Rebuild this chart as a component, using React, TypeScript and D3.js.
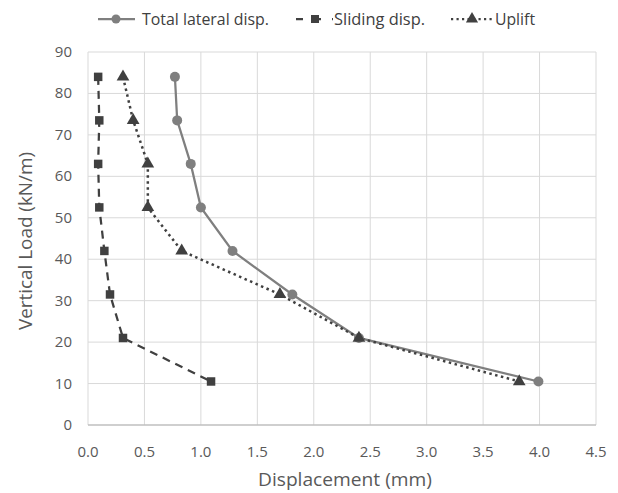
import React from "react";
import * as d3 from "d3";

const loads = [84, 73.5, 63, 52.5, 42, 31.5, 21, 10.5];
const totalLateral = [0.77, 0.79, 0.91, 1.0, 1.28, 1.81, 2.4, 3.99];
const slidingDisp = [0.09, 0.1, 0.09, 0.1, 0.145, 0.195, 0.31, 1.09];
const uplift = [0.31, 0.4, 0.53, 0.53, 0.83, 1.7, 2.4, 3.82];
const xTicks = [0, 0.5, 1, 1.5, 2, 2.5, 3, 3.5, 4, 4.5];
const yTicks = [0, 10, 20, 30, 40, 50, 60, 70, 80, 90];

const W = 618, H = 493;
const FONT = "'Open Sans', sans-serif";

export default function App() {
  const x = d3.scaleLinear().domain([0, 4.5]).range([88, 596]);
  const y = d3.scaleLinear().domain([0, 90]).range([425, 52]);
  const line = d3.line<[number, number]>().x(d => x(d[0])).y(d => y(d[1]));
  const pts = (xs: number[]) => xs.map((v, i) => [v, loads[i]] as [number, number]);
  const tri = d3.symbol().type(d3.symbolTriangle).size(70)();
  const sq = d3.symbol().type(d3.symbolSquare).size(72)();
  const ly = 19;
  return (
    <svg width={W} height={H} style={{ position: "absolute", left: 0, top: 0 }}>
      <rect width={W} height={H} fill="#fff" />
      {xTicks.map(t => (
        <line key={"gx" + t} x1={x(t)} x2={x(t)} y1={y(90)} y2={y(0)} stroke="#d9d9d9" strokeWidth={1} />
      ))}
      {yTicks.map(t => (
        <line key={"gy" + t} x1={x(0)} x2={x(4.5)} y1={y(t)} y2={y(t)} stroke={t === 0 ? "#bfbfbf" : "#d9d9d9"} strokeWidth={t === 0 ? 1.5 : 1} />
      ))}
      {xTicks.map(t => (
        <text key={"tx" + t} x={x(t)} y={457} textAnchor="middle" fontFamily={FONT} fontSize={15} fill="#595959">{d3.format(".1f")(t)}</text>
      ))}
      {yTicks.map(t => (
        <text key={"ty" + t} x={72} y={y(t) + 5} textAnchor="end" fontFamily={FONT} fontSize={15} fill="#595959">{t}</text>
      ))}
      <text x={258} y={486} textLength={174} lengthAdjust="spacingAndGlyphs" fontFamily={FONT} fontSize={17.5} fill="#595959">Displacement (mm)</text>
      <text transform={`translate(32,330) rotate(-90)`} textLength={178} lengthAdjust="spacingAndGlyphs" fontFamily={FONT} fontSize={17.5} fill="#595959">Vertical Load (kN/m)</text>

      <path d={line(pts(totalLateral)) || ""} fill="none" stroke="#7f7f7f" strokeWidth={2.25} />
      <path d={line(pts(slidingDisp)) || ""} fill="none" stroke="#404040" strokeWidth={2.25} strokeDasharray="8,6" />
      <path d={line(pts(uplift)) || ""} fill="none" stroke="#404040" strokeWidth={2.5} strokeDasharray="2.5,3.5" />
      {pts(totalLateral).map((p, i) => (
        <circle key={"c" + i} cx={x(p[0])} cy={y(p[1])} r={5} fill="#7f7f7f" />
      ))}
      {pts(slidingDisp).map((p, i) => (
        <path key={"s" + i} d={sq || ""} transform={`translate(${x(p[0])},${y(p[1])})`} fill="#404040" />
      ))}
      {pts(uplift).map((p, i) => (
        <path key={"t" + i} d={tri || ""} transform={`translate(${x(p[0])},${y(p[1])})`} fill="#404040" />
      ))}

      <g fontFamily={FONT} fontSize={16} fill="#404040">
        <line x1={98} x2={135} y1={ly} y2={ly} stroke="#7f7f7f" strokeWidth={2.25} />
        <circle cx={116} cy={ly} r={4.5} fill="#7f7f7f" />
        <text x={142} y={ly + 5.5} textLength={127} lengthAdjust="spacingAndGlyphs">Total lateral disp.</text>
        <line x1={296} x2={333} y1={ly} y2={ly} stroke="#404040" strokeWidth={2.25} strokeDasharray="7,11" />
        <path d={d3.symbol().type(d3.symbolSquare).size(64)() || ""} transform={`translate(315,${ly})`} fill="#404040" />
        <text x={334} y={ly + 5.5} textLength={91} lengthAdjust="spacingAndGlyphs">Sliding disp.</text>
        <line x1={451} x2={493} y1={ly} y2={ly} stroke="#404040" strokeWidth={2.25} strokeDasharray="2.2,3.3" />
        <path d={d3.symbol().type(d3.symbolTriangle).size(64)() || ""} transform={`translate(472,${ly})`} fill="#404040" />
        <text x={495} y={ly + 5.5} textLength={40} lengthAdjust="spacingAndGlyphs">Uplift</text>
      </g>
    </svg>
  );
}
